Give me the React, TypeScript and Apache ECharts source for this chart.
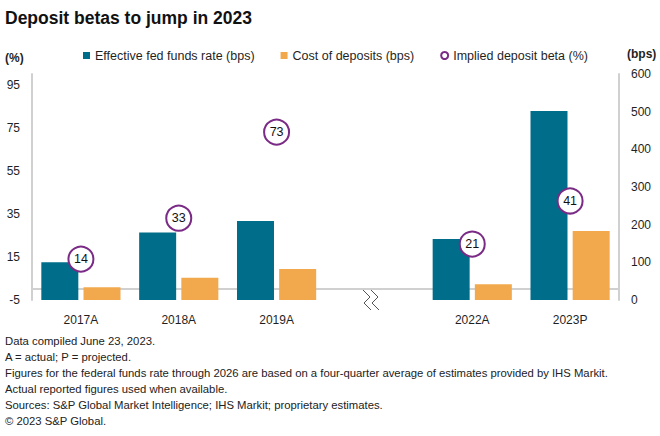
import React, { useEffect, useRef } from "react";
import * as echarts from "echarts";

const categories = ["2017A", "2018A", "2019A", "", "2022A", "2023P"];
const fedFunds = [100, 179, 210, null, 162, 502];
const costDeposits = [34, 59, 82, null, 42, 183];
const depositBeta = [14, 33, 73, null, 21, 41];
const leftTicks = { min: -5, max: 100, interval: 20 };
const rightTicks = { min: 0, max: 600, interval: 100 };
const footnotes = [
  "Data compiled June 23, 2023.",
  "A = actual; P = projected.",
  "Figures for the federal funds rate through 2026 are based on a four-quarter average of estimates provided by IHS Markit.",
  "Actual reported figures used when available.",
  "Sources: S&P Global Market Intelligence; IHS Markit; proprietary estimates.",
  "© 2023 S&P Global.",
];

const FONT = "'Liberation Sans', Arial, sans-serif";
const TEAL = "#006E8A";
const ORANGE = "#F2A84C";
const PURPLE = "#7A2B85";
const TXT = "#1f1f1f";

export default function App() {
  const ref = useRef<HTMLDivElement>(null);
  useEffect(() => {
    if (!ref.current) return;
    document.body.style.margin = "0";
    const chart = echarts.init(ref.current, undefined, { renderer: "svg" });
    const zig = (x: number) => [
      [x, 290],
      [x + 7, 297],
      [x + 1, 303],
      [x + 8, 310],
    ];
    chart.setOption({
      animation: false,
      textStyle: { fontFamily: FONT },
      grid: { left: 32, right: 41, top: 74, bottom: 136 },
      legend: {
        left: 83,
        top: 49,
        padding: 0,
        itemWidth: 7,
        itemHeight: 7,
        itemGap: 26,
        textStyle: { fontSize: 12.5, color: TXT, fontFamily: FONT },
        data: [
          { name: "Effective fed funds rate (bps)", icon: "rect" },
          { name: "Cost of deposits (bps)", icon: "rect" },
          {
            name: "Implied deposit beta (%)",
            icon: "circle",
            itemStyle: { color: "#fff", borderColor: PURPLE, borderWidth: 2 },
          },
        ],
      },
      xAxis: {
        type: "category",
        data: categories,
        axisTick: { show: false },
        axisLine: { lineStyle: { color: "#d0d0d0", width: 2 } },
        axisLabel: { color: TXT, fontSize: 12, margin: 14, fontFamily: FONT },
      },
      yAxis: [
        {
          type: "value",
          min: leftTicks.min,
          max: leftTicks.max,
          interval: leftTicks.interval,
          splitLine: { show: false },
          axisLine: { show: true, lineStyle: { color: "#d0d0d0", width: 2 } },
          axisLabel: { color: TXT, fontSize: 12, margin: 12, showMaxLabel: false, fontFamily: FONT },
        },
        {
          type: "value",
          min: rightTicks.min,
          max: rightTicks.max,
          interval: rightTicks.interval,
          splitLine: { show: false },
          axisLine: { show: true, lineStyle: { color: "#d0d0d0", width: 2 } },
          axisLabel: { color: TXT, fontSize: 12, margin: 12, fontFamily: FONT },
        },
      ],
      series: [
        {
          name: "Effective fed funds rate (bps)",
          type: "bar",
          yAxisIndex: 1,
          data: fedFunds,
          barWidth: 37,
          barGap: "14%",
          itemStyle: { color: TEAL },
        },
        {
          name: "Cost of deposits (bps)",
          type: "bar",
          yAxisIndex: 1,
          data: costDeposits,
          barWidth: 37,
          itemStyle: { color: ORANGE },
        },
        {
          name: "Implied deposit beta (%)",
          type: "scatter",
          yAxisIndex: 0,
          data: depositBeta,
          symbolSize: 25,
          z: 5,
          itemStyle: { color: "#fff", borderColor: PURPLE, borderWidth: 2, opacity: 1 },
          label: {
            show: true,
            position: "inside",
            color: "#111",
            fontSize: 12.5,
            fontFamily: FONT,
          },
        },
      ],
      graphic: [
        {
          type: "text",
          left: 5,
          top: 9,
          style: { text: "Deposit betas to jump in 2023", font: `bold 17.5px ${FONT}`, fill: "#111" },
        },
        {
          type: "text",
          left: 5,
          top: 52,
          style: { text: "(%)", font: `bold 12px ${FONT}`, fill: TXT },
        },
        {
          type: "text",
          left: 627,
          top: 48,
          style: { text: "(bps)", font: `bold 12px ${FONT}`, fill: TXT },
        },
        { type: "rect", shape: { x: 364, y: 298, width: 14, height: 4 }, style: { fill: "#fff" }, z: 10 },
        { type: "polyline", shape: { points: zig(363) }, style: { stroke: "#555", lineWidth: 1, fill: "none" }, z: 11 },
        { type: "polyline", shape: { points: zig(371) }, style: { stroke: "#555", lineWidth: 1, fill: "none" }, z: 11 },
        ...footnotes.map((t, i) => ({
          type: "text",
          left: 5,
          top: 335 + i * 16,
          style: { text: t, font: `11.3px ${FONT}`, fill: "#222" },
        })),
      ],
    });
    return () => chart.dispose();
  }, []);
  return <div ref={ref} style={{ width: 660, height: 436 }} />;
}
